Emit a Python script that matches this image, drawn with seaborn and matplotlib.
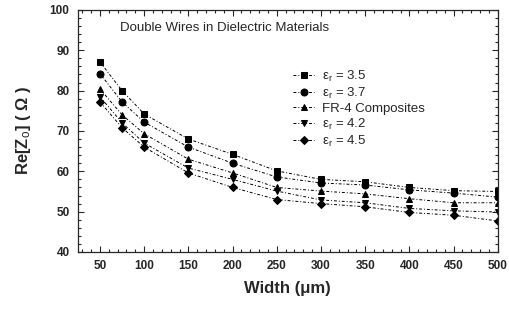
import pandas as pd
import seaborn as sns
from matplotlib import pyplot as plt
from matplotlib.ticker import MultipleLocator

width = [50, 75, 100, 150, 200, 250, 300, 350, 400, 450, 500]
er_35 = [87.1, 80.0, 74.2, 68.0, 64.2, 60.1, 58.0, 57.4, 56.0, 55.2, 55.0]
er_37 = [84.2, 77.2, 72.2, 66.0, 62.0, 58.6, 57.1, 56.6, 55.4, 54.6, 53.6]
fr4 = [80.4, 74.0, 69.3, 63.0, 59.6, 56.0, 55.1, 54.4, 53.2, 52.2, 52.2]
er_42 = [78.5, 72.0, 67.0, 60.8, 58.0, 55.1, 52.9, 52.2, 50.8, 50.2, 49.9]
er_45 = [77.2, 70.8, 66.0, 59.6, 56.0, 53.0, 52.0, 51.2, 49.8, 49.1, 47.7]

labels = ['ε$_r$ = 3.5', 'ε$_r$ = 3.7', 'FR-4 Composites',
          'ε$_r$ = 4.2', 'ε$_r$ = 4.5']
markers = ['s', 'o', '^', 'v', 'D']

rows = []
for lab, vals in zip(labels, [er_35, er_37, fr4, er_42, er_45]):
    for w, v in zip(width, vals):
        rows.append({'Width': w, 'Z': v, 'series': lab})
df = pd.DataFrame(rows)

sns.set_style('ticks')
plt.rcParams['font.family'] = ['Liberation Sans', 'DejaVu Sans']
plt.rcParams['mathtext.fontset'] = 'custom'
plt.rcParams['mathtext.rm'] = 'Liberation Sans'
plt.rcParams['mathtext.it'] = 'Liberation Sans'

fig = plt.figure(figsize=(5.09, 3.21), dpi=100)
ax = fig.add_axes([0.153, 0.215, 0.825, 0.754])

sns.lineplot(data=df, x='Width', y='Z', hue='series', style='series',
             markers=markers, dashes=False, palette=['black'] * 5,
             linewidth=0.7, markersize=5, markeredgecolor='black', ax=ax)
for ln in ax.lines:
    ln.set_linestyle((0, (3, 2, 1, 2)))
    if ln.get_marker() == 'D':
        ln.set_markersize(4)

ax.set_xlim(25, 500)
ax.set_ylim(40, 100)
ax.xaxis.set_major_locator(MultipleLocator(50))
ax.xaxis.set_minor_locator(MultipleLocator(10))
ax.yaxis.set_major_locator(MultipleLocator(10))
ax.yaxis.set_minor_locator(MultipleLocator(2))
ax.tick_params(which='both', direction='in', top=True, right=True, width=0.8)
ax.tick_params(which='major', length=4, labelsize=8.5, pad=6)
ax.tick_params(which='minor', length=2)
for t in ax.get_xticklabels() + ax.get_yticklabels():
    t.set_fontweight('bold')
for s in ax.spines.values():
    s.set_linewidth(0.9)

ax.set_xlabel('Width (μm)', fontsize=12, fontweight='bold', labelpad=6)
ax.set_ylabel(r'Re[Z$_o$] ( Ω )', fontsize=12, fontweight='bold', labelpad=12)
ax.text(0.1, 0.925, 'Double Wires in Dielectric Materials', transform=ax.transAxes,
        fontsize=9.5, va='center')

h, l = ax.get_legend_handles_labels()
for hd in h:
    if hd.get_marker() == 'D':
        hd.set_markersize(4)
ax.legend(h, l, loc='upper left', bbox_to_anchor=(0.5, 0.78), frameon=False,
          fontsize=9.5, handlelength=1.6, handletextpad=0.6, labelspacing=0.15,
          borderaxespad=0)

fig.savefig('out.png', dpi=100)
